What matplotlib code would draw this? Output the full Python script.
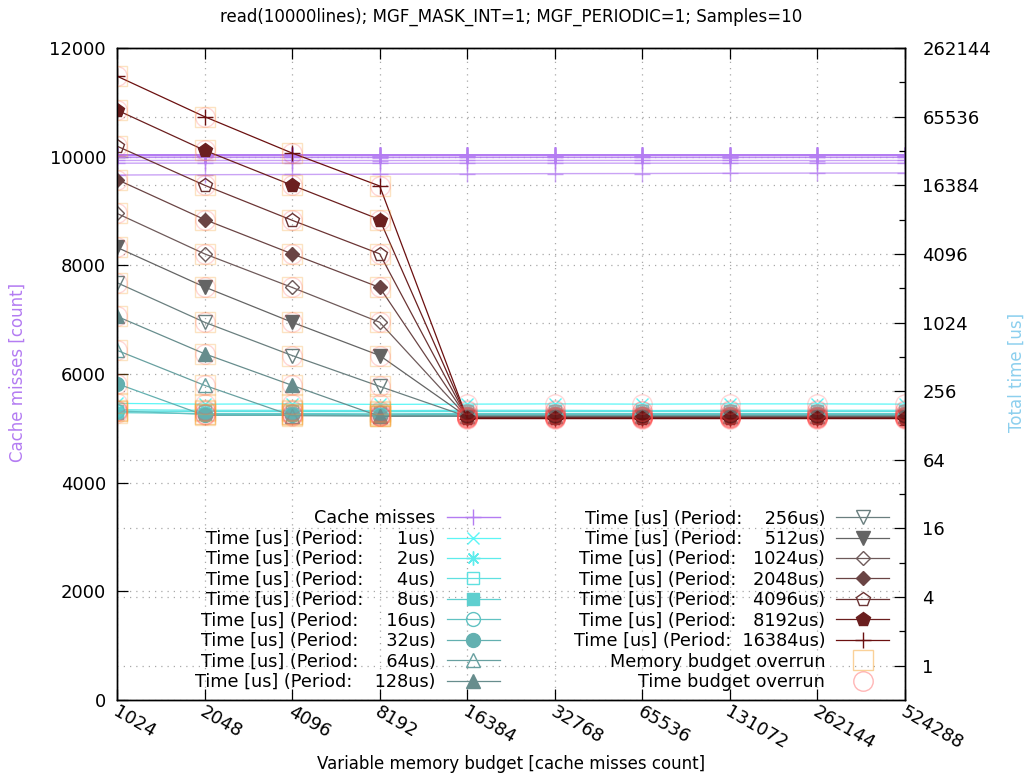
import matplotlib
matplotlib.use("Agg")
import matplotlib.pyplot as plt
import matplotlib.transforms as mtransforms
from matplotlib.lines import Line2D
from matplotlib.ticker import FixedLocator, FixedFormatter, NullLocator, NullFormatter

plt.rcParams["font.family"] = ["DejaVu Sans"]
plt.rcParams["font.size"] = 12

# ---------------------------------------------------------------- data
budgets = [1024, 2048, 4096, 8192, 16384, 32768, 65536, 131072, 262144, 524288]
budget_labels = [str(b) for b in budgets]
periods_us = [1, 2, 4, 8, 16, 32, 64, 128, 256, 512, 1024, 2048, 4096, 8192, 16384]

# total time [us], one row per sampling period
time_us = [
    [200, 197, 198, 196, 197, 198, 197, 198, 198, 197],
    [176, 174, 174, 173, 174, 174, 173, 174, 174, 174],
    [171, 170, 170, 169, 170, 170, 170, 170, 170, 170],
    [166, 163, 163, 162, 163, 163, 163, 163, 163, 163],
    [172, 160, 160, 159, 160, 160, 160, 160, 160, 160],
    [298, 157, 157, 156, 157, 157, 156, 157, 157, 157],
    [584, 288, 156, 155, 155, 155, 155, 155, 155, 155],
    [1160, 545, 288, 154, 154, 154, 154, 154, 154, 154],
    [2290, 1030, 526, 282, 153, 153, 153, 153, 153, 153],
    [4670, 2100, 1030, 526, 152, 152, 152, 152, 152, 152],
    [9280, 4100, 2080, 1030, 151, 151, 151, 151, 151, 151],
    [18400, 8200, 4100, 2080, 150, 150, 150, 150, 150, 150],
    [36100, 16400, 8080, 4100, 149, 149, 149, 149, 149, 149],
    [74800, 33200, 16400, 8200, 148, 148, 148, 148, 148, 148],
    [148500, 65500, 31400, 16150, 147, 147, 147, 147, 147, 147],
]

# cache misses [count], one row per sampling period
cache_misses = [
    [9880, 9882, 9880, 9878, 9880, 9881, 9880, 9879, 9880, 9880],
    [9990, 9992, 9990, 9991, 9990, 9989, 9990, 9991, 9990, 9990],
    [10030, 10031, 10030, 10029, 10030, 10031, 10030, 10030, 10029, 10030],
    [10028, 10030, 10031, 10030, 10029, 10030, 10031, 10030, 10030, 10031],
    [9930, 9931, 9930, 9929, 9930, 9931, 9930, 9930, 9929, 9930],
    [10032, 10031, 10030, 10032, 10031, 10030, 10032, 10031, 10030, 10031],
    [9662, 9668, 9672, 9678, 9682, 9688, 9690, 9695, 9698, 9700],
    [10030, 10029, 10030, 10031, 10030, 10029, 10030, 10031, 10030, 10030],
    [10031, 10030, 10029, 10030, 10031, 10030, 10029, 10030, 10031, 10030],
    [9985, 9986, 9985, 9984, 9985, 9986, 9985, 9984, 9985, 9986],
    [10030, 10031, 10030, 10030, 10029, 10030, 10031, 10030, 10030, 10029],
    [10029, 10030, 10031, 10030, 10030, 10031, 10030, 10029, 10030, 10030],
    [10031, 10030, 10030, 10029, 10030, 10031, 10030, 10030, 10031, 10030],
    [10030, 10030, 10031, 10030, 10029, 10030, 10030, 10031, 10030, 10029],
    [10030, 10029, 10030, 10030, 10031, 10030, 10029, 10030, 10030, 10031],
]

time_budget_overrun = [True] * 10

# ---------------------------------------------------------------- styles
period_colors = [
    "#5cf6f6", "#5eecec", "#5fe0e0", "#5ecfcf", "#61c2c2", "#63b0b0",
    "#68a0a0", "#678d8d", "#6a7f7f", "#646464", "#6e5a5a", "#6a4444",
    "#6b3434", "#6b1f1f", "#6b1010",
]
period_markers = ["x", (8, 2, 0), "s", "s", "o", "o", "^", "^", "v", "v",
                  "D", "D", "p", "p", "+"]
period_filled = [True, True, False, True, False, True, False, True, False,
                 True, False, True, False, True, True]
period_msize = [9, 10, 9, 9, 10, 10, 10, 10, 10, 10, 7.5, 7.5, 10, 10, 11]

cm_color = "#b47cf2"
mem_color = "#f7a535"
time_color = "#ff4a4a"
FS = 12.7

# ---------------------------------------------------------------- figure
W, H = 1029, 778
fig = plt.figure(figsize=(W / 100, H / 100), dpi=100)
L, R, T, B = 117, 905, 48, 700
ax = fig.add_axes([L / W, 1 - B / H, (R - L) / W, (B - T) / H])
ax_t = ax.twinx()
ax.set_zorder(1)
ax_t.set_zorder(2)
ax_t.patch.set_visible(False)

grid_kw = dict(color="#a8a8a8", linestyle=(0, (1, 4)), linewidth=0.9)

# x axis (log2 budgets)
ax.set_xscale("log", base=2)
ax.set_xlim(budgets[0], budgets[-1])
ax.xaxis.set_major_locator(FixedLocator(budgets))
ax.xaxis.set_major_formatter(FixedFormatter(budget_labels))
ax.xaxis.set_minor_locator(NullLocator())

# left axis: cache misses
ax.set_ylim(0, 12000)
ax.yaxis.set_major_locator(FixedLocator(range(0, 12001, 2000)))
ax.tick_params(axis="both", direction="in", length=8, width=0.9, top=True,
               right=False, labelsize=13)
ax.tick_params(axis="y", pad=8)
ax.tick_params(axis="x", pad=0)
ax.grid(True, which="major", axis="both", **grid_kw)
ax.set_axisbelow(True)

# right axis: total time
ax_t.set_yscale("log", base=2)
ax_t.set_ylim(0.5, 262144)
t_major = [4 ** k for k in range(0, 10)]
t_minor = [2 * 4 ** k for k in range(0, 9)]
ax_t.yaxis.set_major_locator(FixedLocator(t_major))
ax_t.yaxis.set_major_formatter(FixedFormatter([str(v) for v in t_major]))
ax_t.yaxis.set_minor_locator(FixedLocator(t_minor))
ax_t.yaxis.set_minor_formatter(NullFormatter())
ax_t.tick_params(axis="y", which="major", direction="in", length=8, width=0.9,
                 pad=12.5, labelsize=13)
ax_t.tick_params(axis="y", which="minor", direction="in", length=4, width=0.9)
ax_t.grid(True, which="major", axis="y", **grid_kw)
ax_t.set_axisbelow(True)

for a in (ax, ax_t):
    for s in a.spines.values():
        s.set_linewidth(1.0)
        s.set_color("black")

# cache misses (left axis)
for row in cache_misses:
    ax.plot(budgets, row, color=cm_color, alpha=0.7, linewidth=1.0,
            marker="+", markersize=11, markeredgewidth=1.0)

# time series (right axis)
for i, row in enumerate(time_us):
    c = period_colors[i]
    ax_t.plot(budgets, row, color=c, linewidth=0.9, marker=period_markers[i],
              markersize=period_msize[i], markeredgewidth=1.0,
              markerfacecolor=c if period_filled[i] else "none",
              markeredgecolor=c)

# overrun markers
for i, row in enumerate(time_us):
    mem_x = [b for b, cm, t in zip(budgets, cache_misses[i], row) if cm > b]
    mem_y = [t for b, cm, t in zip(budgets, cache_misses[i], row) if cm > b]
    ax_t.plot(mem_x, mem_y, linestyle="none", marker="s", markersize=14.5,
              markerfacecolor="none", markeredgecolor=mem_color,
              markeredgewidth=1.0, alpha=0.3)
    tx = [b for b, f in zip(budgets, time_budget_overrun) if f]
    ty = [t for t, f in zip(row, time_budget_overrun) if f]
    ax_t.plot(tx, ty, linestyle="none", marker="o", markersize=14,
              markerfacecolor="none", markeredgecolor=time_color,
              markeredgewidth=1.0, alpha=0.22)

# rotated budget labels
offset = mtransforms.ScaledTranslation(-3 / 100, -11 / 100, fig.dpi_scale_trans)
for lbl in ax.get_xticklabels():
    lbl.set_rotation(-30)
    lbl.set_ha("left")
    lbl.set_va("center")
    lbl.set_rotation_mode("anchor")
    lbl.set_transform(lbl.get_transform() + offset)

# labels and title
fig.text((L + R) / 2 / W, 1 - 17 / H,
         "read(10000lines); MGF_MASK_INT=1; MGF_PERIODIC=1; Samples=10",
         ha="center", va="center", fontsize=12)
fig.text((L + R) / 2 / W, 1 - 764 / H,
         "Variable memory budget [cache misses count]",
         ha="center", va="center", fontsize=12)
fig.text(18 / W, 1 - 372 / H, "Cache misses [count]", rotation=90,
         ha="center", va="center", fontsize=12, color=cm_color)
fig.text(1017 / W, 1 - 372 / H, "Total time [us]", rotation=90,
         ha="center", va="center", fontsize=12, color="#8ccfee")

# legend
handles = [Line2D([], [], color=cm_color, marker="+", markersize=11,
                  linewidth=1.0)]
labels = ["Cache misses"]
for i, p in enumerate(periods_us):
    c = period_colors[i]
    handles.append(Line2D([], [], color=c, linewidth=0.9,
                          marker=period_markers[i], markersize=period_msize[i],
                          markerfacecolor=c if period_filled[i] else "none",
                          markeredgecolor=c))
    labels.append("Time [us] (Period: %6dus)" % p)
handles.append(Line2D([], [], linestyle="none", marker="s", markersize=14.5,
                      markerfacecolor="none", markeredgecolor=mem_color,
                      alpha=0.5))
labels.append("Memory budget overrun")
handles.append(Line2D([], [], linestyle="none", marker="o", markersize=14,
                      markerfacecolor="none", markeredgecolor=time_color,
                      alpha=0.4))
labels.append("Time budget overrun")

leg = ax_t.legend(handles, labels, ncol=2, markerfirst=False, frameon=False,
                  loc="lower right",
                  bbox_to_anchor=((889 - L) / (R - L), (B - 691) / (B - T)),
                  borderpad=0, borderaxespad=0, handlelength=3.0,
                  handletextpad=0.62, columnspacing=4.2, labelspacing=0.14,
                  fontsize=FS)

fig.savefig("out.png", dpi=100)
